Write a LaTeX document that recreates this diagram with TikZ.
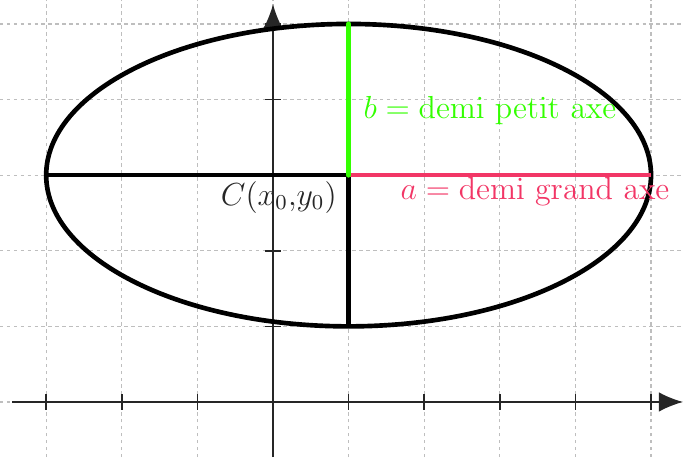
\documentclass[tikz,border=0pt]{standalone}
\usetikzlibrary{arrows.meta}
\definecolor{ggreen}{RGB}{51,255,0}
\definecolor{gpink}{RGB}{242,54,102}
\definecolor{ggrid}{RGB}{190,190,190}
\tikzset{
  gridline/.style={ggrid, dash pattern=on 1.3pt off 1.3pt, line width=0.45pt},
  axisline/.style={black!85, line width=0.6pt, -{Latex[length=3.2mm,width=2.6mm]}},
  tickmark/.style={black!85, line width=0.6pt},
  thick seg/.style={line width=1.75pt},
  lbl/.style={inner sep=0pt, font=\large}
}
\begin{document}
\begin{tikzpicture}[x=1cm,y=1cm]
\useasboundingbox (-3.611,-0.728) rectangle (5.423,5.317);
% grid
\foreach \x in {-3,...,5} \draw[gridline] (\x,-0.728) -- (\x,5.317);
\foreach \y in {0,...,5} \draw[gridline] (-3.611,\y) -- (5.423,\y);
% axes
\coordinate (xs) at (-3.45,0);
\coordinate (xe) at (5.423,0);
\coordinate (ys) at (0,-0.728);
\coordinate (ye) at (0,5.26);
\draw[axisline] (xs) -- (xe);
\draw[axisline] (ys) -- (ye);
\foreach \x in {-3,-2,-1,1,2,3,4,5} \draw[tickmark] (\x,-0.1) -- (\x,0.1);
\foreach \y in {1,...,5} \draw[tickmark] (-0.1,\y) -- (0.1,\y);
% ellipse
\coordinate (C) at (1,3);
\coordinate (L) at (-3,3);
\coordinate (R) at (5,3);
\coordinate (T) at (1,5);
\coordinate (B) at (1,1);
\draw[thick seg] (C) ellipse [x radius=4, y radius=2];
\draw[thick seg] (L) -- (C);
\draw[thick seg] (C) -- (B);
\draw[line width=1.55pt, gpink] (C) -- (R);
\draw[line width=1.85pt, ggreen, line cap=round] (C) -- (T);
% labels
\node[lbl, text=ggreen, anchor=west] (lb) at (1.19,3.86) {$b=\mathrm{demi\ petit\ axe}$};
\node[lbl, text=gpink, anchor=west] (la) at (1.68,2.78) {$a=\mathrm{demi\ grand\ axe}$};
\node[lbl, text=black!85, anchor=east] (lc) at (0.85,2.71) {$C(x_0{,}y_0)$};
\end{tikzpicture}
\end{document}
